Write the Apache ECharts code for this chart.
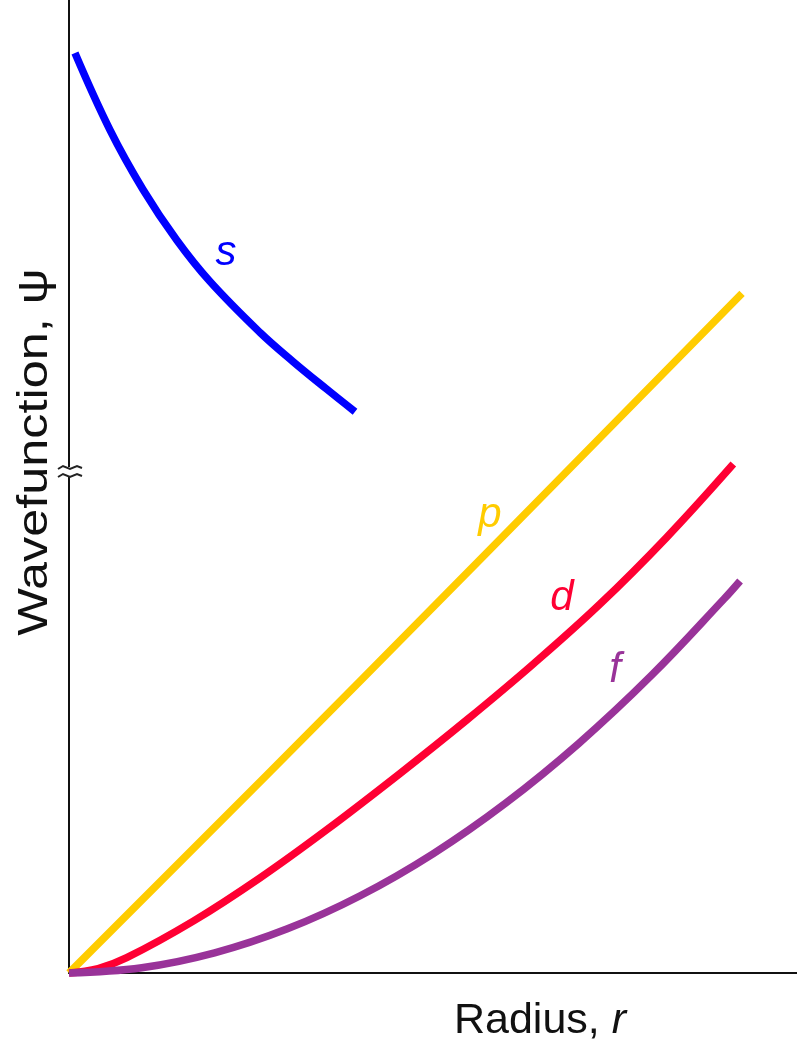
<!DOCTYPE html>
<html>
<head>
<meta charset="utf-8">
<script src="https://cdn.jsdelivr.net/npm/echarts@6/dist/echarts.min.js"></script>
<style>
html,body{margin:0;padding:0;background:#fff;}
#chart{width:797px;height:1041px;}
</style>
</head>
<body>
<div id="chart"></div>
<script>
// Data (arbitrary units; radius 0..10, wavefunction 0..10)
const sCurve = [[0.082,9.455],[0.563,8.664],[1.016,8.053],[1.479,7.533],[1.937,7.106],[2.624,6.582],[3.077,6.284],[3.540,6.000],[3.929,5.768]];
const pCurve = [[0,0],[4.005,3.004],[9.245,6.986]];
const dCurve = [[0,0],[0.4,0.045],[0.793,0.157],[1.707,0.533],[2.624,0.978],[3.540,1.472],[4.547,2.051],[5.463,2.600],[6.378,3.176],[7.294,3.792],[8.210,4.478],[9.125,5.231]];
const fCurve = [[0,0],[1,0.054],[2,0.207],[3,0.454],[4,0.794],[5,1.225],[6,1.747],[7,2.358],[8,3.058],[9,3.846],[9.218,4.029]];
const seriesNames = ['s','p','d','f'];
const xTitle = 'Radius, ';
const xTitleVar = 'r';
const yTitle = 'Wavefunction, ψ';

const colors = {s:'#0000ff', p:'#ffcc00', d:'#ff0033', f:'#993399'};
const curves = {s:sCurve, p:pCurve, d:dCurve, f:fCurve};
const labelPos = {s:[226,253], p:[490,515], d:[562,598], f:[615,670]};

const chart = echarts.init(document.getElementById('chart'));
const font = 'Liberation Sans, Arial, sans-serif';

const graphics = seriesNames.map(n => ({
  type:'text', x:labelPos[n][0], y:labelPos[n][1], z:10,
  style:{text:n, fill:colors[n], font:'italic 42px ' + font, textAlign:'center', textVerticalAlign:'middle'}
}));
graphics.push({
  type:'text', x:540, y:1021, z:10,
  style:{text:'{a|' + xTitle + '}{b|' + xTitleVar + '}', textAlign:'center', textVerticalAlign:'middle',
    rich:{a:{font:'43px ' + font, fill:'#111'}, b:{font:'italic 43px ' + font, fill:'#111'}}}
});
graphics.push({
  type:'text', x:35, y:452, rotation:Math.PI/2, scaleX:1.2, z:10,
  style:{text:yTitle, font:'42px ' + font, fill:'#111', textAlign:'center', textVerticalAlign:'middle'}
});
// axis break mark
graphics.push({type:'rect', shape:{x:61,y:467,width:16,height:9}, style:{fill:'#fff'}, z:20});
graphics.push({type:'polyline', shape:{points:[[58,469],[63,466],[70,469],[77,466],[82,468]]}, style:{stroke:'#222', lineWidth:2, fill:null}, z:21});
graphics.push({type:'polyline', shape:{points:[[58,477],[63,474],[70,477],[77,474],[82,476]]}, style:{stroke:'#222', lineWidth:2, fill:null}, z:21});

chart.setOption({
  animation:false,
  backgroundColor:'#fff',
  grid:{left:69, right:0, top:0, bottom:68},
  xAxis:{type:'value', min:0, max:10, axisLine:{lineStyle:{color:'#111', width:2}}, axisTick:{show:false}, axisLabel:{show:false}, splitLine:{show:false}},
  yAxis:{type:'value', min:0, max:10, axisLine:{show:true, lineStyle:{color:'#111', width:2}}, axisTick:{show:false}, axisLabel:{show:false}, splitLine:{show:false}},
  series: seriesNames.map(n => ({
    name:n, type:'line', data:curves[n], smooth:0.4, showSymbol:false, clip:false,
    lineStyle:{color:colors[n], width:7.5, join:'round'}, z: 3
  })),
  graphic: graphics
});
</script>
</body>
</html>
